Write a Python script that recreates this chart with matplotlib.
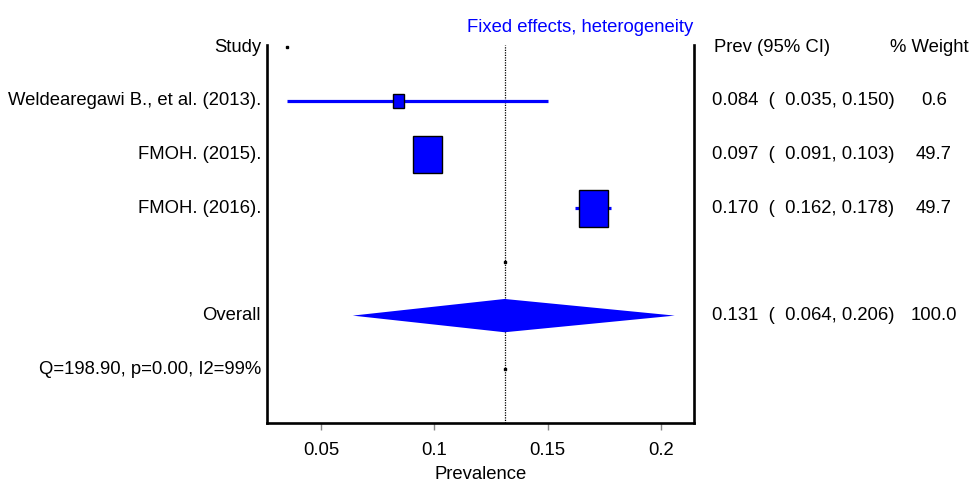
import numpy as np
import matplotlib.pyplot as plt
import matplotlib.transforms as mtransforms
from matplotlib.patches import Rectangle, Polygon

# podaci
studies = ["Weldearegawi B., et al. (2013).", "FMOH. (2015).", "FMOH. (2016)."]
prev = [0.084, 0.097, 0.170]
lo = [0.035, 0.091, 0.162]
hi = [0.150, 0.103, 0.178]
weight = [0.6, 49.7, 49.7]
overall = 0.131
overall_lo = 0.064
overall_hi = 0.206
het_text = "Q=198.90, p=0.00, I2=99%"
xticks = [0.05, 0.1, 0.15, 0.2]
xtick_labels = ["0.05", "0.1", "0.15", "0.2"]

plt.rcParams['font.family'] = ['Liberation Sans', 'DejaVu Sans']
FS = 13.3
BLUE = "#0000ff"

fig = plt.figure(figsize=(9.71, 4.83), dpi=100)
W, H = 971, 483
ax = fig.add_axes([267 / W, (H - 423) / H, (694 - 267) / W, (423 - 45) / H])
ax.set_xlim(0.0262, 0.2145)
ax.set_ylim(7, -0.04)

# redovi: 0 = zaglavlje, 1..3 studije, 5 = ukupno, 6 = heterogenost
rows = np.arange(1, len(studies) + 1)
row_overall = 5
row_het = 6

# vertikalna linija za ukupnu procenu
ax.axvline(overall, color="black", lw=0.9, ls=(0, (1, 1)), zorder=1)

# intervali i kvadrati
wmax = max(weight)
for y, p, l, h, w in zip(rows, prev, lo, hi, weight):
    ax.plot([l, h], [y, y], color=BLUE, lw=2.3, solid_capstyle="butt", zorder=2)
    bw = max(0.0128 * np.sqrt(w / wmax), 0.0048)
    bh = max(0.69 * np.sqrt(w / wmax), 0.26)
    ax.add_patch(Rectangle((p - bw / 2, y - bh / 2), bw, bh, facecolor=BLUE,
                           edgecolor="black", lw=1.0, zorder=3))

# romb za ukupnu procenu
dh = 0.31
ax.add_patch(Polygon([[overall_lo, row_overall], [overall, row_overall - dh],
                      [overall_hi, row_overall], [overall, row_overall + dh]],
                     closed=True, facecolor=BLUE, edgecolor="none", zorder=3))

# sitne tacke kao u originalu
ax.plot([min(lo), overall, overall], [0, 4, row_het], ls="none", marker="s",
        ms=1.6, color="black", zorder=4)

# ose
ax.spines["top"].set_visible(False)
for s in ["left", "right", "bottom"]:
    ax.spines[s].set_linewidth(1.9)
ax.set_yticks([])
ax.set_xticks(xticks)
ax.set_xticklabels(xtick_labels, fontsize=FS)
ax.tick_params(axis="x", direction="out", length=5, width=1, color="#888888", pad=9)
ax.set_xlabel("Prevalence", fontsize=FS, labelpad=5)

# naslov
fig.text(580 / W, 1 - 27 / H, "Fixed effects, heterogeneity", color=BLUE,
         fontsize=FS, ha="center", va="center")

# tekst levo i desno
tr = mtransforms.blended_transform_factory(fig.transFigure, ax.transData)
xl = 261 / W
ax.text(xl, 0, "Study", transform=tr, ha="right", va="center", fontsize=FS)
for y, name in zip(rows, studies):
    ax.text(xl, y, name, transform=tr, ha="right", va="center", fontsize=FS)
ax.text(xl, row_overall, "Overall", transform=tr, ha="right", va="center", fontsize=FS)
ax.text(xl, row_het, het_text, transform=tr, ha="right", va="center", fontsize=FS)

xc = 712 / W
xw = 934 / W
ax.text(714 / W, 0, "Prev (95% CI)", transform=tr, ha="left", va="center", fontsize=FS)
ax.text(929 / W, 0, "% Weight", transform=tr, ha="center", va="center", fontsize=FS)
for y, p, l, h, w in zip(rows, prev, lo, hi, weight):
    ax.text(xc, y, f"{p:.3f}  (  {l:.3f}, {h:.3f})", transform=tr, ha="left",
            va="center", fontsize=FS)
    ax.text(xw, y, f"{w:.1f}", transform=tr, ha="center", va="center", fontsize=FS)
ax.text(xc, row_overall, f"{overall:.3f}  (  {overall_lo:.3f}, {overall_hi:.3f})",
        transform=tr, ha="left", va="center", fontsize=FS)
ax.text(xw, row_overall, f"{sum(weight):.1f}", transform=tr, ha="center",
        va="center", fontsize=FS)

fig.savefig("out.png", dpi=100)
